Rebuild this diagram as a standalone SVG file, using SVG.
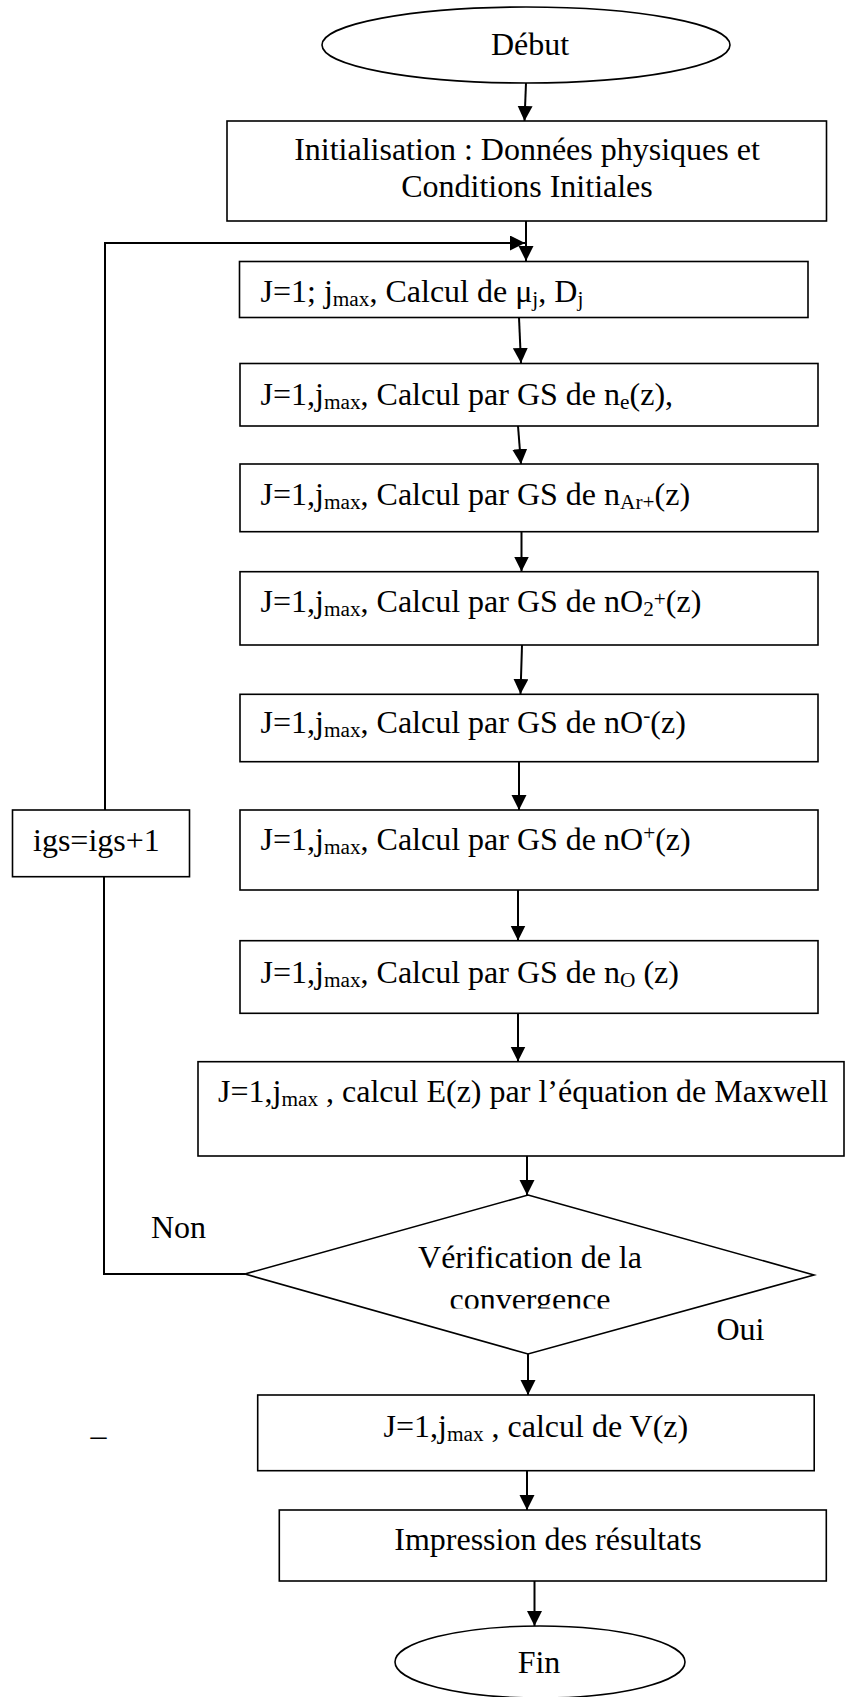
<svg xmlns="http://www.w3.org/2000/svg" width="845" height="1697" viewBox="0 0 845 1697">
  <style>
    .t { font-family: "Liberation Serif", "Times New Roman", serif; font-size: 32px; fill: #000; }
    .s { font-size: 21.3px; }
    .shape { fill: #fff; stroke: #000; stroke-width: 1.6; }
    .conn { fill: none; stroke: #000; stroke-width: 2; }
  </style>
  <defs>
    <marker id="arrow" markerUnits="userSpaceOnUse" markerWidth="16" markerHeight="16" refX="15" refY="7.5" orient="auto">
      <path d="M0,0 L15,7.5 L0,15 z" fill="#000"/>
    </marker>
    <clipPath id="clip-conv">
      <rect x="0" y="1250" width="845" height="58.5"/>
    </clipPath>
  </defs>

  <rect width="845" height="1697" fill="#fff"/>

  <!-- connectors -->
  <g id="connectors">
    <path class="conn" d="M526,83 L524.5,121" marker-end="url(#arrow)"/>
    <path class="conn" d="M526,221 L526,261" marker-end="url(#arrow)"/>
    <path class="conn" d="M519,317.5 L521,363" marker-end="url(#arrow)"/>
    <path class="conn" d="M518,426 L521,464" marker-end="url(#arrow)"/>
    <path class="conn" d="M521.5,532 L521.5,571.5" marker-end="url(#arrow)"/>
    <path class="conn" d="M522,645 L520.5,694" marker-end="url(#arrow)"/>
    <path class="conn" d="M519,762 L519,810" marker-end="url(#arrow)"/>
    <path class="conn" d="M518,890 L518,940.5" marker-end="url(#arrow)"/>
    <path class="conn" d="M518,1013.5 L518,1061.5" marker-end="url(#arrow)"/>
    <path class="conn" d="M527,1156 L527,1195" marker-end="url(#arrow)"/>
    <path class="conn" d="M528,1354 L528,1395" marker-end="url(#arrow)"/>
    <path class="conn" d="M527,1471 L527,1510" marker-end="url(#arrow)"/>
    <path class="conn" d="M534.5,1581 L534.5,1626" marker-end="url(#arrow)"/>
    <!-- loop back: Non branch to igs, then igs back to the top of the iteration -->
    <path class="conn" d="M245,1274 L104,1274 L104,877"/>
    <path class="conn" d="M105,810 L105,243 L525,243" marker-end="url(#arrow)"/>
  </g>

  <g id="debut">
    <ellipse class="shape" cx="526" cy="45" rx="204" ry="38"/>
    <text class="t" x="530" y="55" text-anchor="middle">Début</text>
  </g>

  <g id="init">
    <rect class="shape" x="227" y="121" width="599.5" height="100"/>
    <text class="t" x="527" y="160" text-anchor="middle">Initialisation : Données physiques et</text>
    <text class="t" x="527" y="197" text-anchor="middle">Conditions Initiales</text>
  </g>

  <g id="calc-mu">
    <rect class="shape" x="239.5" y="261.5" width="568.5" height="56"/>
    <text class="t" x="260.5" y="302">J=1; j<tspan class="s" dy="4">max</tspan><tspan dy="-4">, Calcul de μ</tspan><tspan class="s" dy="4">j</tspan><tspan dy="-4">, D</tspan><tspan class="s" dy="4">j</tspan></text>
  </g>

  <g id="calc-ne">
    <rect class="shape" x="240" y="363.5" width="578" height="62.5"/>
    <text class="t" x="260.5" y="405">J=1,j<tspan class="s" dy="4">max</tspan><tspan dy="-4">, Calcul par GS de n</tspan><tspan class="s" dy="4">e</tspan><tspan dy="-4">(z),</tspan></text>
  </g>

  <g id="calc-nar">
    <rect class="shape" x="240" y="464" width="578" height="67.7"/>
    <text class="t" x="260.5" y="505">J=1,j<tspan class="s" dy="4">max</tspan><tspan dy="-4">, Calcul par GS de n</tspan><tspan class="s" dy="4">Ar+</tspan><tspan dy="-4">(z)</tspan></text>
  </g>

  <g id="calc-no2">
    <rect class="shape" x="240" y="571.7" width="578" height="73.3"/>
    <text class="t" x="260.5" y="612">J=1,j<tspan class="s" dy="4">max</tspan><tspan dy="-4">, Calcul par GS de nO</tspan><tspan class="s" dy="4">2</tspan><tspan class="s" dy="-10">+</tspan><tspan dy="6">(z)</tspan></text>
  </g>

  <g id="calc-ominus">
    <rect class="shape" x="240" y="694.3" width="578" height="67.4"/>
    <text class="t" x="260.5" y="733">J=1,j<tspan class="s" dy="4">max</tspan><tspan dy="-4">, Calcul par GS de nO</tspan><tspan class="s" dy="-11">-</tspan><tspan dy="11">(z)</tspan></text>
  </g>

  <g id="calc-oplus">
    <rect class="shape" x="240" y="810" width="578" height="80"/>
    <text class="t" x="260.5" y="850">J=1,j<tspan class="s" dy="4">max</tspan><tspan dy="-4">, Calcul par GS de nO</tspan><tspan class="s" dy="-10">+</tspan><tspan dy="10">(z)</tspan></text>
  </g>

  <g id="calc-no">
    <rect class="shape" x="240" y="940.7" width="578" height="72.6"/>
    <text class="t" x="260.5" y="983">J=1,j<tspan class="s" dy="4">max</tspan><tspan dy="-4">, Calcul par GS de n</tspan><tspan class="s" dy="4">O</tspan><tspan dy="-4"> (z)</tspan></text>
  </g>

  <g id="igs">
    <rect class="shape" x="12.5" y="810" width="177" height="66.7"/>
    <text class="t" x="33" y="851">igs=igs+1</text>
  </g>

  <g id="maxwell">
    <rect class="shape" x="198" y="1061.7" width="646" height="94.3"/>
    <text class="t" x="218" y="1102">J=1,j<tspan class="s" dy="4">max</tspan><tspan dy="-4"> , calcul E(z) par l’équation de Maxwell</tspan></text>
  </g>

  <g id="convergence">
    <polygon class="shape" points="528,1195 814,1275 528,1354 245,1274"/>
    <text class="t" x="530" y="1268" text-anchor="middle">Vérification de la</text>
    <text class="t" x="530" y="1310" text-anchor="middle" clip-path="url(#clip-conv)">convergence</text>
  </g>

  <g id="labels">
    <text class="t" x="151" y="1238">Non</text>
    <text class="t" x="716.5" y="1340">Oui</text>
    <text class="t" x="90.5" y="1446">–</text>
  </g>

  <g id="calc-v">
    <rect class="shape" x="257.7" y="1395" width="556.5" height="75.7"/>
    <text class="t" x="383.5" y="1437">J=1,j<tspan class="s" dy="4">max</tspan><tspan dy="-4"> , calcul de V(z)</tspan></text>
  </g>

  <g id="impression">
    <rect class="shape" x="279.3" y="1510" width="547" height="71"/>
    <text class="t" x="548" y="1550" text-anchor="middle">Impression des résultats</text>
  </g>

  <g id="fin">
    <ellipse class="shape" cx="540" cy="1662" rx="145" ry="36"/>
    <text class="t" x="539" y="1673" text-anchor="middle">Fin</text>
  </g>
</svg>
